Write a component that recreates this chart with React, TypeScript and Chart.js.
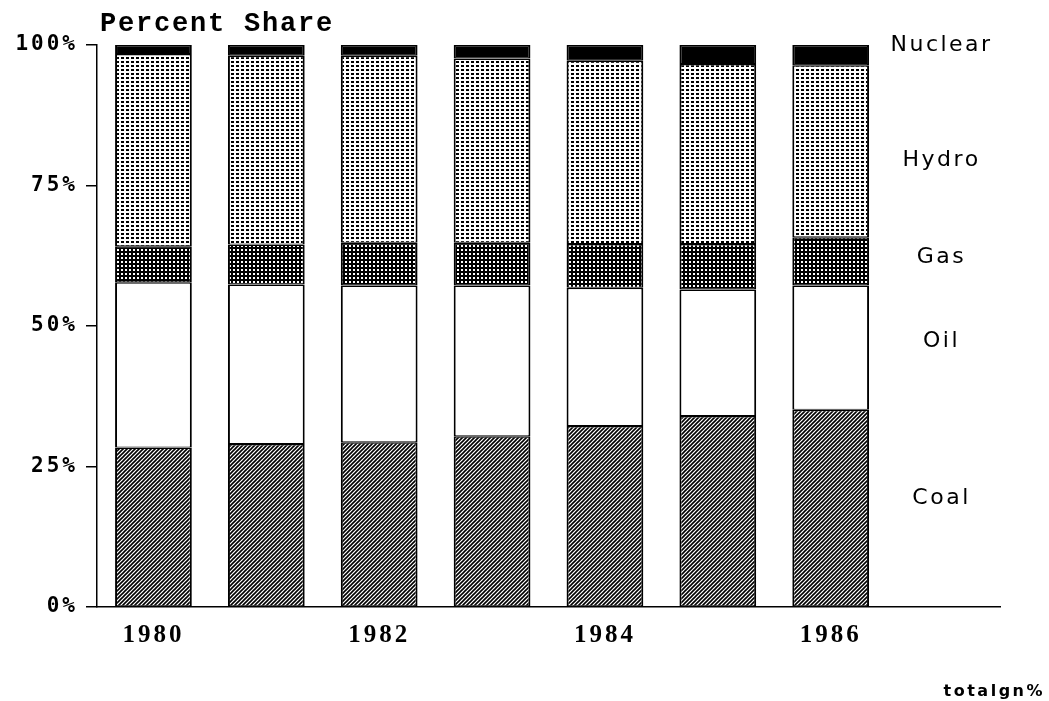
import React, { useEffect, useRef } from 'react';
import { Chart, registerables } from 'chart.js';

Chart.register(...registerables);

const years = ['1980', '1981', '1982', '1983', '1984', '1985', '1986', '1987'];
const shownYearLabels = ['1980', '1982', '1984', '1986'];
const coal = [28.4, 29.0, 29.3, 30.4, 32.2, 34.0, 35.1];
const oil = [29.4, 28.4, 27.9, 26.8, 24.6, 22.5, 22.1];
const gas = [6.4, 7.1, 7.6, 7.6, 7.8, 8.1, 8.6];
const hydro = [34.2, 33.6, 33.3, 32.8, 32.6, 32.0, 30.6];
const nuclear = [1.6, 1.9, 1.9, 2.4, 2.8, 3.4, 3.6];
const yTickValues = [0, 25, 50, 75, 100];
const seriesNames = ['Coal', 'Oil', 'Gas', 'Hydro', 'Nuclear'];
const seriesLabelLevels = [19.4, 47.2, 62.2, 79.5, 100];
const titleText = 'Percent Share';
const footerText = 'totalgn%';

function makePattern(w: number, h: number, draw: (g: CanvasRenderingContext2D) => void) {
  const c = document.createElement('canvas');
  c.width = w;
  c.height = h;
  const g = c.getContext('2d') as CanvasRenderingContext2D;
  draw(g);
  return g.createPattern(c, 'repeat') as CanvasPattern;
}

export default function App() {
  const ref = useRef<HTMLCanvasElement | null>(null);

  useEffect(() => {
    if (!ref.current) return;

    const hatch = makePattern(4, 4, (g) => {
      g.fillStyle = '#fff';
      g.fillRect(0, 0, 4, 4);
      g.strokeStyle = '#000';
      g.lineWidth = 1.6;
      g.beginPath();
      g.moveTo(-1, 5); g.lineTo(5, -1);
      g.moveTo(-1, 1); g.lineTo(1, -1);
      g.moveTo(3, 5); g.lineTo(5, 3);
      g.stroke();
    });
    const grid = makePattern(4, 4, (g) => {
      g.fillStyle = '#000';
      g.fillRect(0, 0, 4, 4);
      g.fillStyle = '#fff';
      g.fillRect(1, 1, 2, 2);
    });
    const dots = makePattern(5, 4, (g) => {
      g.fillStyle = '#fff';
      g.fillRect(0, 0, 5, 4);
      g.fillStyle = '#000';
      g.fillRect(1, 1, 3, 2);
    });

    const fills = [hatch, '#ffffff', grid, dots, '#000000'];
    const values = [coal, oil, gas, hydro, nuclear];

    const decor = {
      id: 'decor',
      beforeDraw(chart: any) {
        chart.ctx.letterSpacing = '3px';
      },
      afterDraw(chart: any) {
        const { ctx, scales } = chart;
        const x = scales.x;
        const y = scales.y;
        ctx.save();
        ctx.fillStyle = '#000';
        ctx.letterSpacing = '1.8px';
        ctx.font = 'bold 27px "Liberation Mono", monospace';
        ctx.textAlign = 'left';
        ctx.textBaseline = 'alphabetic';
        ctx.fillText(titleText, chart.chartArea.left + 3, 31);

        ctx.font = '22px "DejaVu Sans", sans-serif';
        ctx.letterSpacing = '2.5px';
        ctx.textAlign = 'center';
        ctx.textBaseline = 'middle';
        const lx = x.getPixelForValue(years.length - 1);
        seriesNames.forEach((n, i) => {
          ctx.fillText(n, lx - 2, y.getPixelForValue(seriesLabelLevels[i]));
        });

        ctx.font = 'bold 16px "DejaVu Sans", sans-serif';
        ctx.letterSpacing = '2.5px';
        ctx.textAlign = 'right';
        ctx.textBaseline = 'alphabetic';
        ctx.fillText(footerText, chart.width - 4, 696);
        ctx.restore();
        ctx.letterSpacing = '0px';
      },
    };

    const chart = new Chart(ref.current, {
      type: 'bar',
      data: {
        labels: years,
        datasets: seriesNames.map((name, i) => ({
          label: name,
          data: values[i],
          backgroundColor: fills[i] as any,
          borderColor: '#000',
          borderWidth: { top: 1.5, bottom: 1, left: 2, right: 2 } as any,
          borderSkipped: false as any,
          barPercentage: 0.68,
          categoryPercentage: 1,
        })),
      },
      options: {
        animation: false,
        responsive: true,
        maintainAspectRatio: false,
        color: '#000',
        layout: { padding: { top: 45, right: 49, left: 0, bottom: 0 } },
        plugins: {
          legend: { display: false },
          tooltip: { enabled: false },
          title: { display: false },
        },
        scales: {
          x: {
            stacked: true,
            grid: { display: false, drawTicks: false },
            border: { display: true, color: '#000', width: 1.5 },
            ticks: {
              color: '#000',
              padding: 14,
              autoSkip: false,
              maxRotation: 0,
              font: { family: '"Liberation Serif", serif', size: 25, weight: 'bold' },
              callback: (_v: any, i: number) => (shownYearLabels.includes(years[i]) ? years[i] : ''),
            },
            afterFit: (s: any) => {
              s.height = 94;
            },
          },
          y: {
            stacked: true,
            min: 0,
            max: 100,
            grid: {
              display: true,
              drawOnChartArea: false,
              drawTicks: true,
              tickLength: 11,
              color: '#000',
              lineWidth: 1.5,
            },
            border: { display: true, color: '#000', width: 1.5 },
            afterBuildTicks: (s: any) => {
              s.ticks = yTickValues.map((v) => ({ value: v }));
            },
            ticks: {
              color: '#000',
              padding: 8,
              font: { family: '"DejaVu Sans Mono", monospace', size: 21, weight: 'bold' },
              callback: (v: any) => v + '%',
            },
            afterFit: (s: any) => {
              s.width = 97;
            },
          },
        },
      },
      plugins: [decor],
    });

    return () => chart.destroy();
  }, []);

  return (
    <div style={{ position: 'fixed', left: 0, top: 0, width: 1049, height: 701, background: '#fff' }}>
      <canvas ref={ref} style={{ display: 'block' }} />
    </div>
  );
}
